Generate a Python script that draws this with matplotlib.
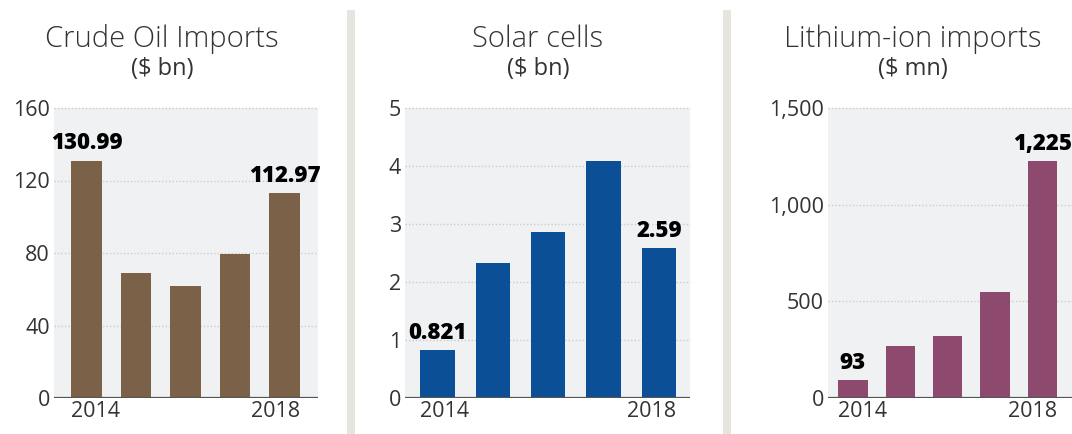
import matplotlib.pyplot as plt
from matplotlib.patches import Rectangle

years = ['2014', '2015', '2016', '2017', '2018']

oil = [130.99, 69.1, 62.0, 79.4, 112.97]
solar = [0.821, 2.32, 2.86, 4.09, 2.59]
lithium = [93, 269, 322, 547, 1225]

oil_ticks = [0, 40, 80, 120, 160]
solar_ticks = [0, 1, 2, 3, 4, 5]
lithium_ticks = [0, 500, 1000, 1500]
lithium_ticklabels = ['0', '500', '1,000', '1,500']

oil_labels = ['130.99', '', '', '', '112.97']
solar_labels = ['0.821', '', '', '', '2.59']
lithium_labels = ['93', '', '', '', '1,225']

W, H = 1072, 434
FONT = 'Open Sans'
BAR_W = 0.62


def panel(fig, px_left, px_right, xlim, vals, color, ticks, ticklabels,
          labels, title, unit, title_x):
    ax = fig.add_axes([px_left / W, (H - 398) / H,
                       (px_right - px_left) / W, 290 / H])
    ax.set_facecolor('#f0f1f3')
    x = list(range(len(vals)))
    ax.bar(x, vals, width=BAR_W, color=color, zorder=3)
    ax.set_xlim(*xlim)
    ax.set_ylim(ticks[0], ticks[-1])
    for t in ticks[1:]:
        ax.axhline(t, color='#cccccc', lw=1.0, ls=(0, (1, 1.5)), zorder=1,
                   clip_on=False)
    ax.axhline(0, color='#555555', lw=1.6, zorder=4)
    for s in ax.spines.values():
        s.set_visible(False)
    ax.set_yticks(ticks)
    ax.set_yticklabels(ticklabels, fontsize=15.5, color='#333333',
                       family=FONT)
    ax.tick_params(axis='y', length=0, pad=3)
    ax.set_xticks([0 - BAR_W / 2, len(vals) - 1 + BAR_W / 2])
    ax.set_xticklabels([years[0], years[-1]], fontsize=15.5,
                       color='#333333', family=FONT)
    tl = ax.get_xticklabels()
    tl[0].set_horizontalalignment('left')
    tl[1].set_horizontalalignment('right')
    ax.tick_params(axis='x', length=0, pad=2)
    span = ticks[-1] - ticks[0]
    for xi, v, lab in zip(x, vals, labels):
        if lab:
            ax.text(xi, v + span * 0.018, lab, ha='center', va='bottom',
                    fontsize=16, fontweight='heavy', family=FONT,
                    color='black', zorder=5)
    fig.text(title_x / W, 1 - 39 / H, title, ha='center', va='center',
             fontsize=21, color='#333333', family=FONT, fontweight='light')
    fig.text(title_x / W, 1 - 69 / H, unit, ha='center', va='center',
             fontsize=17, color='#333333', family=FONT)
    return ax


fig = plt.figure(figsize=(W / 100, H / 100), dpi=100)
fig.patch.set_facecolor('white')

panel(fig, 54, 318, (-0.655, 4.675), oil, '#7b6148', oil_ticks,
      [str(t) for t in oil_ticks], oil_labels, 'Crude Oil Imports', '($ bn)', 162)
panel(fig, 405, 690, (-0.587, 4.56), solar, '#0b4f96', solar_ticks,
      [str(t) for t in solar_ticks], solar_labels, 'Solar cells', '($ bn)', 538)
panel(fig, 828, 1072, (-0.527, 4.63), lithium, '#8e4a6e', lithium_ticks,
      lithium_ticklabels, lithium_labels, 'Lithium-ion imports', '($ mn)', 913)

for xs in (347, 723):
    fig.add_artist(Rectangle((xs / W, 0), 8 / W, (H - 10) / H,
                             transform=fig.transFigure, color='#e6e6de',
                             lw=0, zorder=0))

fig.savefig('out.png', dpi=100)
